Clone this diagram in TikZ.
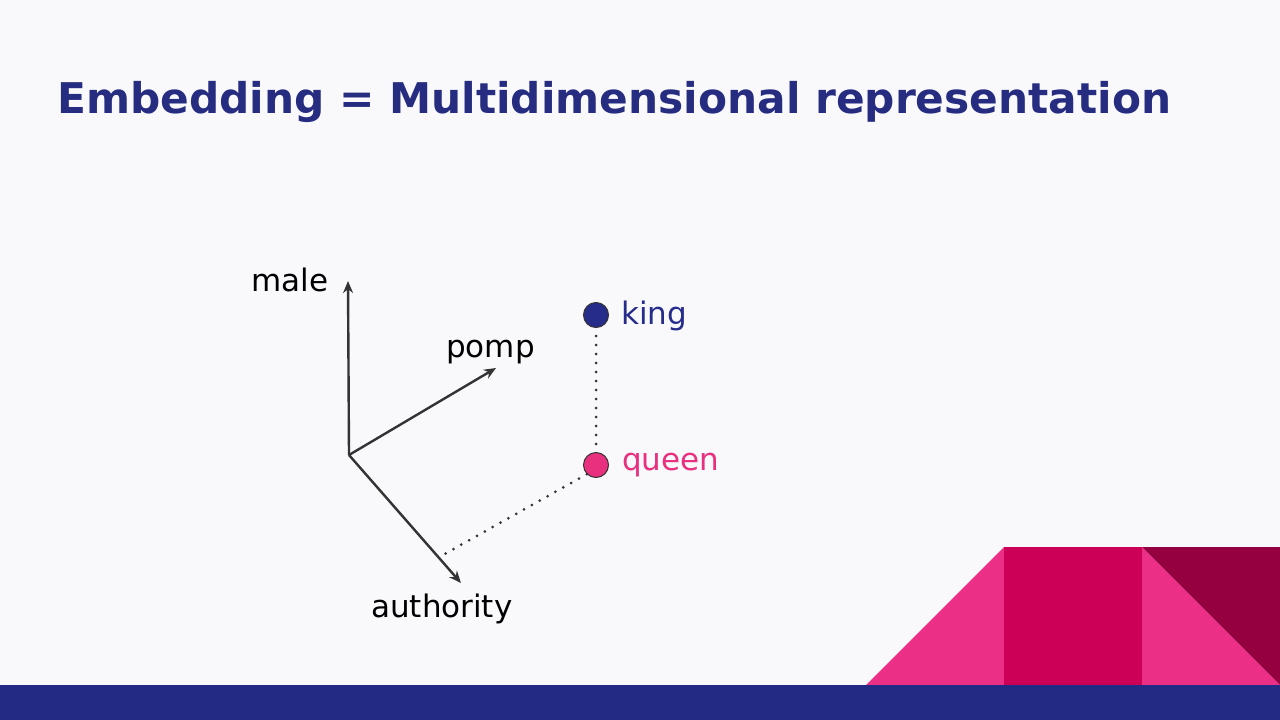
\documentclass[tikz,border=0pt]{standalone}
\usepackage{fontspec}
\setmainfont{DejaVu Sans}
\usetikzlibrary{arrows.meta,calc}
\definecolor{bgc}{HTML}{F9F9FC}
\definecolor{navy}{HTML}{232A84}
\definecolor{titlec}{HTML}{262C80}
\definecolor{pinkl}{HTML}{EC2F86}
\definecolor{pinkm}{HTML}{CC0057}
\definecolor{maroon}{HTML}{940040}
\definecolor{axisc}{HTML}{333333}
\definecolor{kingc}{HTML}{262C8A}
\definecolor{queenc}{HTML}{E8307F}
\tikzset{
  axis/.style={draw=axisc, line width=2.4pt, -{Stealth[length=12pt,width=10pt]}},
  lbl/.style={anchor=base west, inner sep=0pt, font=\fontsize{31}{37}\selectfont},
  dotc/.style={circle, draw=axisc, line width=1pt, minimum size=25pt, inner sep=0pt},
  dotline/.style={draw=axisc, line width=3pt, dash pattern=on 0pt off 9pt, line cap=round},
}
\begin{document}
\begin{tikzpicture}[x=1pt,y=-1pt]
\useasboundingbox (0,0) rectangle (1280,720);
\fill[bgc] (0,0) rectangle (1280,720);
% decoration
\fill[pinkl] (866,685) -- (1004,547) -- (1004,685) -- cycle;
\fill[pinkm] (1004,547) rectangle (1142,685);
\fill[pinkl] (1142,547) -- (1280,685) -- (1142,685) -- cycle;
\fill[maroon] (1142,547) -- (1280,547) -- (1280,685) -- cycle;
\fill[navy] (0,685) rectangle (1280,720);
% title
\node[anchor=base west, inner sep=0pt, text=titlec, font=\fontsize{42.3}{50}\selectfont\bfseries] (title) at (57,113) {Embedding = Multidimensional representation};
% axes
\coordinate (o) at (349,455);
\coordinate (maletip) at (348,281);
\coordinate (pomptip) at (496,368);
\coordinate (authtip) at (461,583);
\draw[axis] (o) -- (maletip);
\draw[axis] (o) -- (pomptip);
\draw[axis] (o) -- (authtip);
\coordinate (proj) at ($(o)!0.8!(authtip)$);
\node[lbl] (male) at (251,291) {male};
\node[lbl] (pomp) at (446,357) {pomp};
\node[lbl] (authority) at (371,617) {authority};
% points
\node[dotc, fill=kingc] (king) at (596,315) {};
\node[dotc, fill=queenc] (queen) at (596,465) {};
\node[lbl, text=kingc] (kinglbl) at (621,324) {king};
\node[lbl, text=queenc] (queenlbl) at (622,470) {queen};
\draw[dotline] ($(king.south)+(0,8)$) -- ($(queen.north)+(0,-6)$);
\draw[dotline] (queen.south west) -- (proj);
\end{tikzpicture}
\end{document}
